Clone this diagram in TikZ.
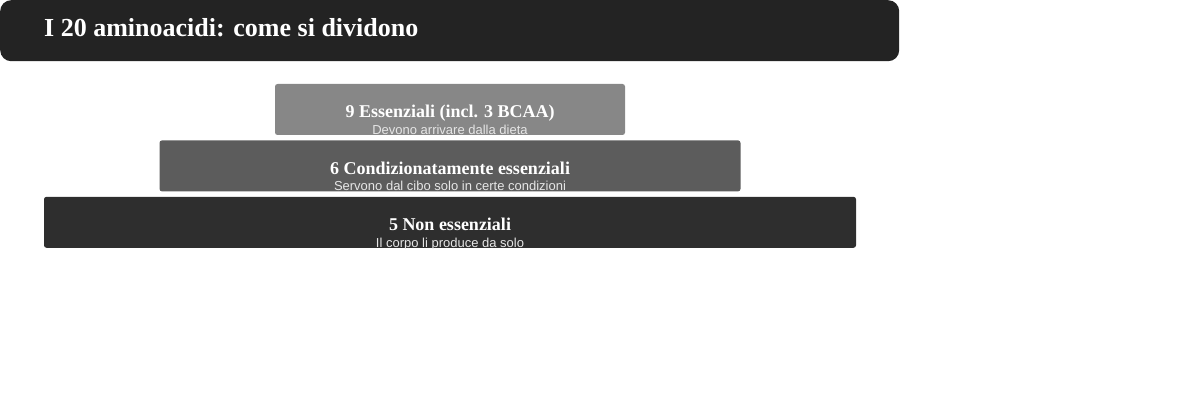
\documentclass[tikz,border=0pt]{standalone}
\usepackage{fontspec}
\setmainfont{Liberation Serif}
\setsansfont{Liberation Sans}
\usetikzlibrary{positioning}
\definecolor{barcol}{HTML}{232323}
\definecolor{esscol}{HTML}{878787}
\definecolor{condcol}{HTML}{5C5C5C}
\definecolor{noncol}{HTML}{2E2E2E}
\definecolor{subcol}{HTML}{E6E6E6}

\begin{document}
\begin{tikzpicture}[x=1pt, y=-1pt, node distance=5pt,
  tier/.style={rectangle, rounded corners=2.5pt, inner sep=0pt, minimum height=51pt},
  head/.style={anchor=base, text=white, font=\fontsize{18}{20}\selectfont\bfseries, inner sep=0pt},
  sub/.style={anchor=base, text=subcol, font=\sffamily\fontsize{13}{15}\selectfont, inner sep=0pt}]
\useasboundingbox (0,0) rectangle (1200,409);
\node[fill=barcol, rounded corners=11pt, minimum width=899pt, minimum height=61pt, inner sep=0pt, anchor=north west] (bar) at (0,0) {};
\node[anchor=base west, inner sep=0pt, text=white, font=\fontsize{26}{28}\selectfont\bfseries] (title) at (44,37) {I 20 aminoacidi: come si dividono};
\node[tier, fill=esscol, minimum width=350pt] (ess) at (450,109.5) {};
\node[tier, fill=condcol, minimum width=581pt, below=of ess] (cond) {};
\node[tier, fill=noncol, minimum width=812pt, below=of cond] (non) {};
\node[head] (esst) at ([yshift=17.5pt]ess.south) {9 Essenziali (incl. 3 BCAA)};
\node[head] (condt) at ([yshift=17.5pt]cond.south) {6 Condizionatamente essenziali};
\node[head] (nont) at ([yshift=17.5pt]non.south) {5 Non essenziali};
% subtitles are cut at the bottom edge of their tier
\begin{scope}
\clip (ess.north west) rectangle (ess.south east);
\node[sub] (esss) at ([yshift=1pt]ess.south) {Devono arrivare dalla dieta};
\end{scope}
\begin{scope}
\clip (cond.north west) rectangle (cond.south east);
\node[sub] (conds) at ([yshift=1pt]cond.south) {Servono dal cibo solo in certe condizioni};
\end{scope}
\begin{scope}
\clip (non.north west) rectangle (non.south east);
\node[sub] (nons) at ([yshift=1pt]non.south) {Il corpo li produce da solo};
\end{scope}
\end{tikzpicture}
\end{document}
